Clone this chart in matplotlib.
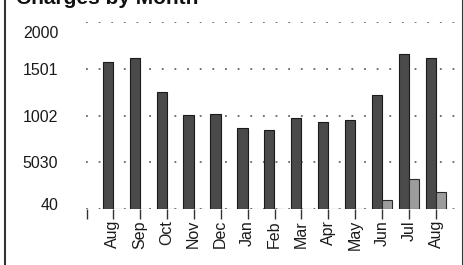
import matplotlib
matplotlib.use("Agg")
import matplotlib.pyplot as plt
from matplotlib.lines import Line2D
from matplotlib.transforms import ScaledTranslation
import numpy as np

plt.rcParams['font.family'] = ['Liberation Sans', 'DejaVu Sans']

# data
months = ['Aug', 'Sep', 'Oct', 'Nov', 'Dec', 'Jan', 'Feb', 'Mar', 'Apr', 'May', 'Jun', 'Jul', 'Aug']
charges = [1572, 1615, 1251, 1005, 1016, 866, 845, 973, 930, 952, 1219, 1658, 1615]
extra = [0, 0, 0, 0, 0, 0, 0, 0, 0, 0, 96, 321, 182]
ytick_vals = [0, 500, 1000, 1500, 2000]
ytick_labels = ['40', '5030', '1002', '1501', '2000']

fig = plt.figure(figsize=(4.64, 2.65), dpi=100)
ax = fig.add_axes([86 / 464, 56 / 265, 377 / 464, 187 / 265])

x = np.arange(len(months))
w = 0.38
ax.bar(x - w / 2, charges, w, color='#4a4a4a', edgecolor='#1a1a1a', linewidth=0.8, zorder=3)
ax.bar(x + w / 2, extra, w, color='#9c9c9c', edgecolor='#2a2a2a', linewidth=0.8, zorder=3)

ax.set_xlim(-1, 13)
ax.set_ylim(0, 2000)
ax.set_yticks(ytick_vals)
ax.set_yticklabels(ytick_labels, fontsize=11.5, color='#1a1a1a')
ax.set_xticks(x)
ax.set_xticklabels(months, rotation=90, fontsize=11.5, color='#1a1a1a')
ax.set_xticks([-0.97], minor=True)
ax.tick_params(axis='y', length=0, pad=20)
ax.tick_params(axis='x', which='both', length=7, width=1, color='#333333', pad=1)

# nudge a couple of y labels the way the scan has them
labs = ax.get_yticklabels()
labs[4].set_transform(labs[4].get_transform() + ScaledTranslation(0, -0.10, fig.dpi_scale_trans))
labs[0].set_transform(labs[0].get_transform() + ScaledTranslation(0, 0.05, fig.dpi_scale_trans))

ax.grid(axis='y', color='#666666', linestyle=(0, (1, 6)), linewidth=1.3, zorder=0)
for s in ax.spines.values():
    s.set_visible(False)

# title is clipped at the top edge in the scan
fig.text(16 / 464, 1 - 4 / 265, 'Charges by Month', fontsize=15, fontweight='bold',
         va='baseline', ha='left', color='#111111')

# page border lines
fig.add_artist(Line2D([5 / 464, 5 / 464], [0, 1], color='#333333', linewidth=1.5))
fig.add_artist(Line2D([463 / 464, 463 / 464], [0, 1], color='#333333', linewidth=1.5))

fig.savefig('out.png', dpi=100)
